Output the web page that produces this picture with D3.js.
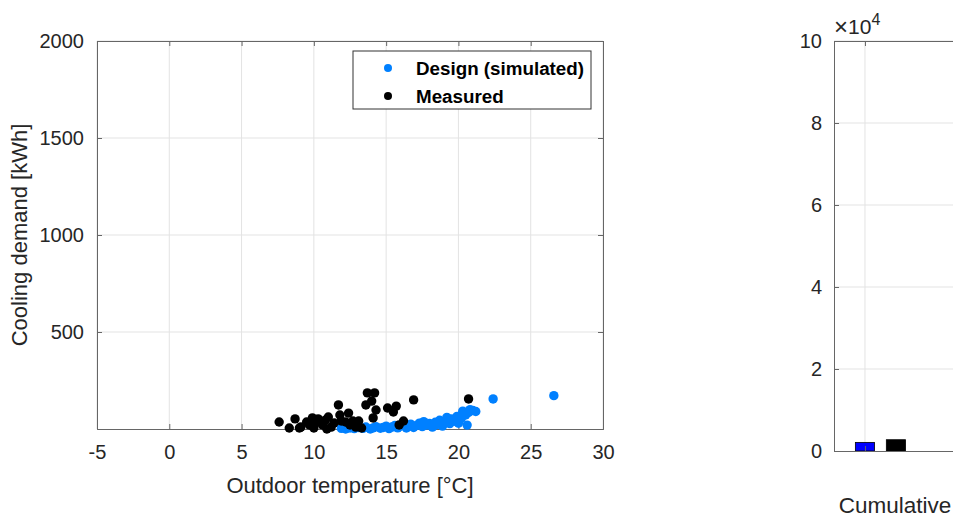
<!DOCTYPE html>
<html>
<head>
<meta charset="utf-8">
<script src="https://cdn.jsdelivr.net/npm/d3@7"></script>
<style>
  html, body { margin: 0; padding: 0; background: #fff; overflow: hidden; }
  svg { display: block; font-family: "Liberation Sans", Arial, sans-serif; }
</style>
</head>
<body>
<svg id="fig" width="953" height="517"></svg>
<script>
// Daily cooling demand vs outdoor temperature: simulated design values
const designTemp = [11.9, 12.2, 12.5, 12.8, 13.1, 13.4, 13.6, 13.9, 14.1, 14.3, 14.6, 14.8, 15.0, 15.2, 15.4,
  15.6, 15.8, 16.0, 16.2, 16.4, 16.5, 16.7, 16.9, 17.1, 17.3, 17.5, 17.6, 17.8, 18.0, 18.2,
  18.4, 18.5, 18.7, 18.9, 19.0, 19.2, 19.4, 19.5, 19.7, 19.9, 20.0, 20.2, 20.3, 20.5, 20.6,
  20.7, 20.8, 21.0, 21.2, 22.4, 26.6];
const designDemand = [3, 0, 5, 2, 8, 3, 10, 0, 6, 12, 4, 8, 15, 2, 10,
  18, 6, 14, 22, 5, 12, 25, 8, 18, 30, 12, 38, 20, 28, 10,
  35, 22, 45, 15, 38, 60, 28, 52, 40, 65, 30, 55, 92, 72, 20,
  85, 100, 95, 90, 155, 172];

// Measured daily values
const measTemp = [7.6, 8.3, 8.7, 9.0, 9.1, 9.5, 9.7, 9.9, 10.0, 10.1, 10.3, 10.6, 10.8, 10.9, 11.0,
  11.2, 11.4, 11.7, 11.8, 11.9, 12.2, 12.4, 12.5, 12.7, 12.9, 13.1, 13.3, 13.6, 13.7, 14.0,
  14.1, 14.2, 14.3, 15.1, 15.5, 15.7, 15.9, 16.2, 16.9, 20.7];
const measDemand = [36, 5, 52, 5, 10, 36, 21, 57, 5, 31, 52, 21, 46, 0, 62,
  10, 31, 124, 72, 41, 36, 82, 21, 41, 10, 41, 5, 124, 186, 144,
  57, 186, 98, 108, 88, 118, 21, 41, 150, 155];

// Cumulative totals
const barLabels = ["Design (simulated)", "Measured"];
const barValues = [2100, 2750];
const barColors = ["#0000ff", "#000000"];

const xTicks = [-5, 0, 5, 10, 15, 20, 25, 30];
const yTicks = [500, 1000, 1500, 2000];
const rTicks = [0, 20000, 40000, 60000, 80000, 100000];

const svg = d3.select("#fig");
const axisColor = "#666";
const gridColor = "#e3e3e3";
const textColor = "#262626";
const plain = d => String(d);

// ---------- scatter panel ----------
const L = { left: 97, right: 603, top: 41, bottom: 429 };
const x = d3.scaleLinear().domain([-5, 30]).range([L.left, L.right]);
const y = d3.scaleLinear().domain([0, 2000]).range([L.bottom, L.top]);

const gL = svg.append("g");
// grid
gL.selectAll(".gx").data(xTicks).join("line")
  .attr("x1", d => x(d)).attr("x2", d => x(d))
  .attr("y1", L.top).attr("y2", L.bottom)
  .attr("stroke", gridColor);
gL.selectAll(".gy").data(yTicks).join("line")
  .attr("x1", L.left).attr("x2", L.right)
  .attr("y1", d => y(d)).attr("y2", d => y(d))
  .attr("stroke", gridColor);

// axes with inward ticks
const axB = gL.append("g").attr("transform", `translate(0,${L.bottom})`)
  .call(d3.axisBottom(x).tickValues(xTicks).tickSize(-5).tickPadding(16).tickFormat(plain));
const axT = gL.append("g").attr("transform", `translate(0,${L.top})`)
  .call(d3.axisTop(x).tickValues(xTicks).tickSize(-5).tickFormat(""));
const axLft = gL.append("g").attr("transform", `translate(${L.left},0)`)
  .call(d3.axisLeft(y).tickValues(yTicks).tickSize(-5).tickPadding(13).tickFormat(plain));
const axR = gL.append("g").attr("transform", `translate(${L.right},0)`)
  .call(d3.axisRight(y).tickValues(yTicks).tickSize(-5).tickFormat(""));
[axB, axT, axLft, axR].forEach(a => {
  a.select(".domain").attr("stroke", axisColor).attr("stroke-width", 1);
  a.selectAll(".tick line").attr("stroke", axisColor);
  a.selectAll(".tick text").attr("fill", textColor).attr("font-size", 20)
    .attr("font-family", "Liberation Sans, Arial, sans-serif");
});

// points
gL.append("g").selectAll("circle").data(designTemp.map((t, i) => [t, designDemand[i]])).join("circle")
  .attr("cx", d => x(d[0])).attr("cy", d => y(d[1])).attr("r", 4.7).attr("fill", "#0080ff");
gL.append("g").selectAll("circle").data(measTemp.map((t, i) => [t, measDemand[i]])).join("circle")
  .attr("cx", d => x(d[0])).attr("cy", d => y(d[1])).attr("r", 4.7).attr("fill", "#000");

// labels
gL.append("text").attr("x", (L.left + L.right) / 2).attr("y", 493)
  .attr("text-anchor", "middle").attr("font-size", 22).attr("fill", textColor)
  .text("Outdoor temperature [°C]");
gL.append("text").attr("transform", `translate(27,${(L.top + L.bottom) / 2}) rotate(-90)`)
  .attr("text-anchor", "middle").attr("font-size", 22).attr("fill", textColor)
  .text("Cooling demand [kWh]");

// legend
const lg = gL.append("g").attr("transform", "translate(353,51)");
lg.append("rect").attr("width", 238).attr("height", 58)
  .attr("fill", "#fff").attr("stroke", "#333").attr("stroke-width", 1);
const legendItems = [{ label: "Design (simulated)", color: "#0080ff" }, { label: "Measured", color: "#000" }];
legendItems.forEach((it, i) => {
  lg.append("circle").attr("cx", 35).attr("cy", 17 + i * 28).attr("r", 4).attr("fill", it.color);
  lg.append("text").attr("x", 63).attr("y", 17 + i * 28).attr("dy", "0.36em")
    .attr("font-size", 18.8).attr("font-weight", "bold").attr("fill", "#000").text(it.label);
});

// ---------- cumulative bar panel ----------
const R = { left: 834, right: 956, top: 41, bottom: 451 };
const xr = d3.scaleLinear().domain([0, 3.94]).range([R.left, R.right]);
const yr = d3.scaleLinear().domain([0, 100000]).range([R.bottom, R.top]);
const gR = svg.append("g");

gR.selectAll(".gy").data(rTicks.slice(1)).join("line")
  .attr("x1", R.left).attr("x2", R.right)
  .attr("y1", d => yr(d)).attr("y2", d => yr(d)).attr("stroke", gridColor);
gR.append("line").attr("x1", xr(1)).attr("x2", xr(1)).attr("y1", R.top).attr("y2", R.bottom)
  .attr("stroke", gridColor);

const barW = 0.62;
gR.selectAll("rect.bar").data(barValues).join("rect").attr("class", "bar")
  .attr("x", (d, i) => xr(i + 1 - barW / 2)).attr("width", xr(barW) - xr(0))
  .attr("y", d => yr(d)).attr("height", d => yr(0) - yr(d))
  .attr("fill", (d, i) => barColors[i]).attr("stroke", "#000").attr("stroke-width", 0.8);

const raxL = gR.append("g").attr("transform", `translate(${R.left},0)`)
  .call(d3.axisLeft(yr).tickValues(rTicks).tickSize(-5).tickPadding(12).tickFormat(d => String(d / 10000)));
const raxB = gR.append("g").attr("transform", `translate(0,${R.bottom})`)
  .call(d3.axisBottom(xr).tickValues([1]).tickSize(-5).tickFormat(""));
const raxT = gR.append("g").attr("transform", `translate(0,${R.top})`)
  .call(d3.axisTop(xr).tickValues([1]).tickSize(-5).tickFormat(""));
[raxL, raxB, raxT].forEach(a => {
  a.select(".domain").attr("stroke", axisColor);
  a.selectAll(".tick line").attr("stroke", axisColor);
  a.selectAll(".tick text").attr("fill", textColor).attr("font-size", 20)
    .attr("font-family", "Liberation Sans, Arial, sans-serif");
});

// exponent label
const ex = gR.append("text").attr("x", R.left).attr("y", 34).attr("font-size", 21).attr("fill", textColor);
ex.append("tspan").attr("font-size", 24).attr("dy", 1).text("×");
ex.append("tspan").attr("dy", -1).text("10");
ex.append("tspan").attr("dy", -9).attr("font-size", 16).text("4");

gR.append("text").attr("x", (R.left + R.right) / 2).attr("y", 513)
  .attr("text-anchor", "middle").attr("font-size", 22.5).attr("fill", textColor).text("Cumulative");
</script>
</body>
</html>
